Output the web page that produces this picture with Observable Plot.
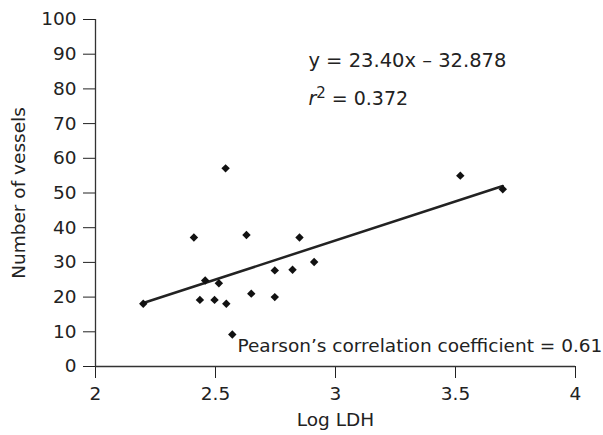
<!DOCTYPE html>
<html>
<head>
<meta charset="utf-8">
<script src="https://cdn.jsdelivr.net/npm/d3@7"></script>
<script src="https://cdn.jsdelivr.net/npm/@observablehq/plot@0.6"></script>
<style>
  html, body { margin: 0; padding: 0; background: #fff; }
</style>
</head>
<body>
<div id="chart"></div>
<script>
// Data
const logLDH  = [2.199, 2.41, 2.435, 2.457, 2.496, 2.514, 2.542, 2.545, 2.57, 2.629, 2.649, 2.747, 2.747, 2.821, 2.85, 2.911, 3.52, 3.697];
const vessels = [18.1, 37.2, 19.2, 24.8, 19.2, 24.0, 57.1, 18.1, 9.2, 37.9, 21.0, 27.7, 20.0, 27.9, 37.2, 30.1, 55.0, 51.1];

// Fitted line end points (as drawn in the reference)
const fitX = [2.199, 3.697];
const fitY = [18.3, 52.0];

const xTicks = [2, 2.5, 3, 3.5, 4];
const yTicks = [0, 10, 20, 30, 40, 50, 60, 70, 80, 90, 100];

const xLabel = "Log LDH";
const yLabel = "Number of vessels";
const equationText = "y = 23.40x \u2013 32.878";
const r2Text = "r2 = 0.372";
const pearsonText = "Pearson\u2019s correlation coefficient = 0.61";

const points = logLDH.map((x, i) => ({x, y: vessels[i]}));
const fit = fitX.map((x, i) => ({x, y: fitY[i]}));

const ink = "#222";

const chart = Plot.plot({
  width: 603,
  height: 435,
  marginLeft: 95,
  marginRight: 28,
  marginTop: 19,
  marginBottom: 69,
  style: {fontFamily: "DejaVu Sans", fontSize: "18.5px", color: ink, background: "white", overflow: "visible"},
  x: {domain: [2, 4], ticks: xTicks, tickFormat: d => String(d), tickSize: 12, tickPadding: 8, label: null},
  y: {domain: [0, 100], ticks: yTicks, tickFormat: d => String(d), tickSize: 12, tickPadding: 7, label: null},
  marks: [
    Plot.ruleX([2], {y1: 0, y2: 100, stroke: "#333", strokeWidth: 1.3}),
    Plot.ruleY([0], {x1: 2, x2: 4, stroke: "#333", strokeWidth: 1.3}),
    Plot.line(fit, {x: "x", y: "y", stroke: ink, strokeWidth: 2.5}),
    Plot.dot(points, {x: "x", y: "y", symbol: "diamond2", r: 3.8, fill: "#111", stroke: "none"}),
    Plot.text([equationText], {x: 2.887, y: 88.2, text: d => d, textAnchor: "start", fill: ink, fontSize: 19.5}),
    Plot.text([r2Text], {x: 2.887, y: 77, text: d => d, textAnchor: "start", fill: ink, fontSize: 19}),
    Plot.text([pearsonText], {x: 4.112, y: 6, text: d => d, textAnchor: "end", fill: ink}),
    Plot.text([xLabel], {frameAnchor: "bottom", dy: 54, lineAnchor: "middle", textAnchor: "middle", text: d => d, fill: ink}),
    Plot.text([yLabel], {frameAnchor: "left", dx: -76, rotate: -90, lineAnchor: "middle", textAnchor: "middle", text: d => d, fill: ink})
  ]
});

// Italic r with superscript 2
d3.select(chart).selectAll("text").filter(function() { return this.textContent === r2Text; })
  .each(function() {
    const t = d3.select(this);
    t.text(null);
    t.append("tspan").attr("font-style", "italic").text("r");
    t.append("tspan").attr("font-size", "15px").attr("dy", "-0.5em").text("2");
    t.append("tspan").attr("dy", "0.38em").text(" = 0.372");
  });

document.getElementById("chart").appendChild(chart);
</script>
</body>
</html>
